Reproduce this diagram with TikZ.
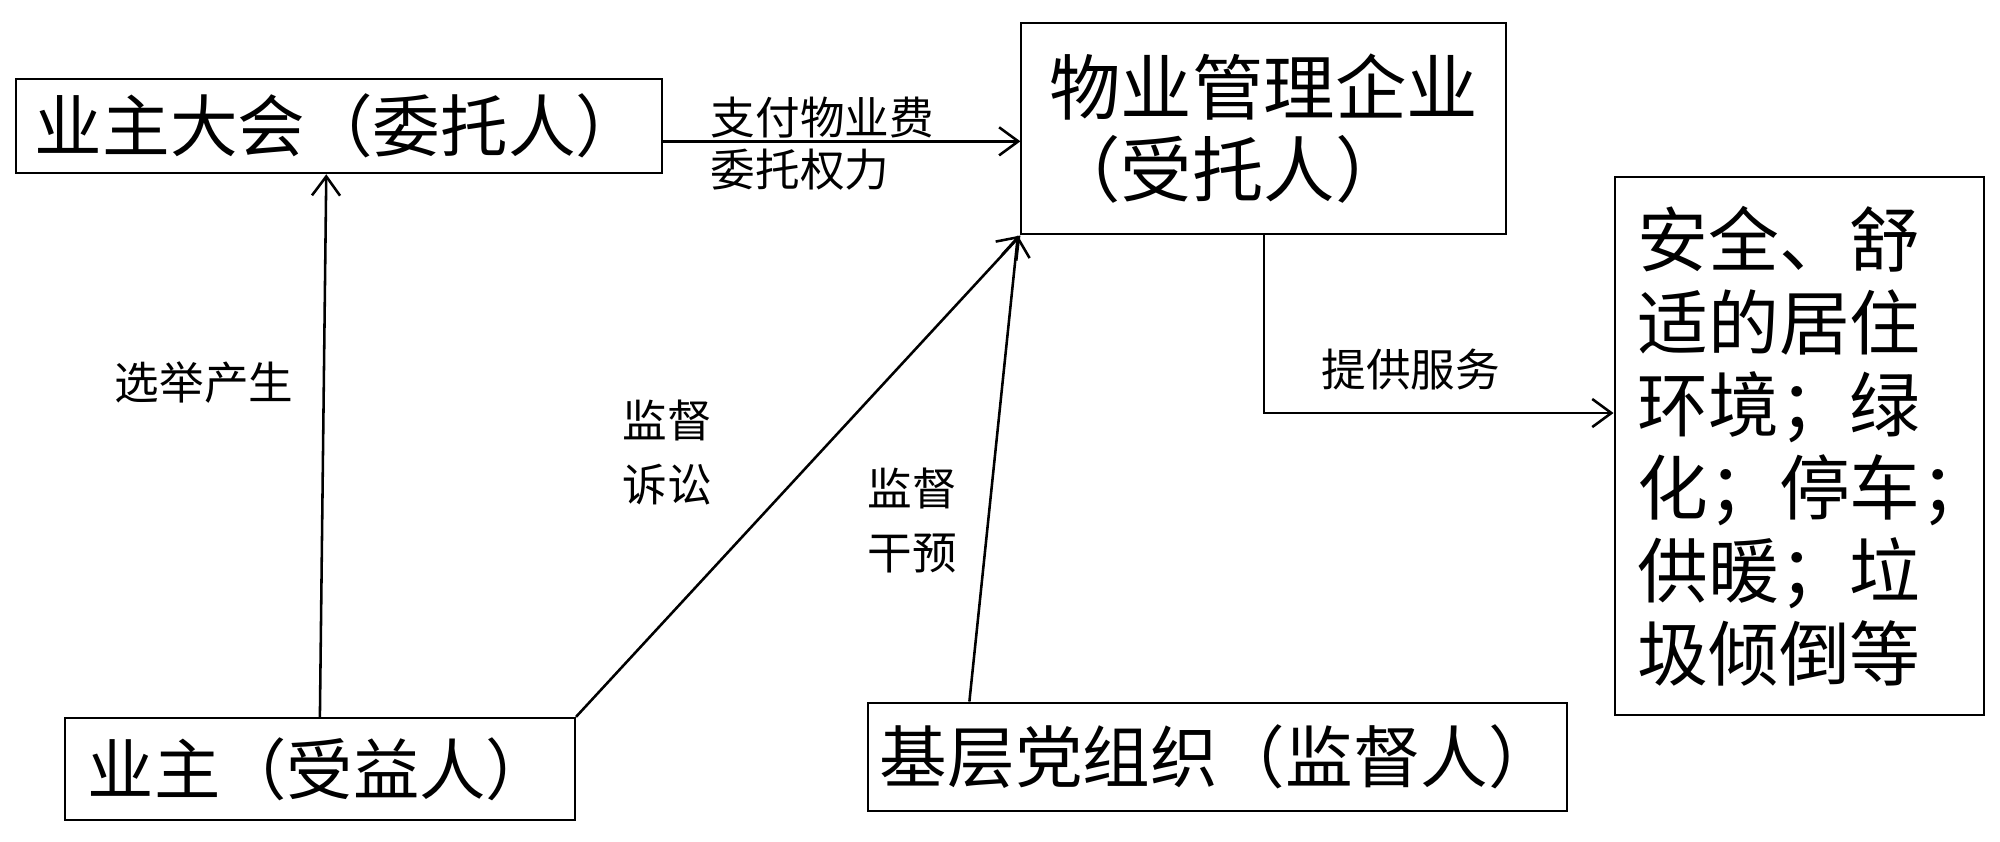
\documentclass[tikz,border=0pt]{standalone}
\usepackage{fontspec}
\setmainfont{Noto Sans CJK SC}
\usetikzlibrary{arrows.meta}
\tikzset{
  kuang/.style={draw, line width=0.8pt, inner sep=0pt, anchor=north west},
  jian/.style={line width=1pt, -{Straight Barb[length=7.5pt,width=11pt]}},
  biaoqian/.style={inner sep=0pt, font=\fontsize{17.5}{25}\selectfont, align=left}
}
\begin{document}
\begin{tikzpicture}[x=0.5pt, y=-0.5pt]
	\useasboundingbox (0,0) rectangle (1568,660);

	\node [kuang, minimum width=253pt, minimum height=37pt, font=\fontsize{26.5}{30}\selectfont] (weituo) at (12,61) {业主大会（委托人）};
	\node [kuang, minimum width=190pt, minimum height=83pt, align=left, font=\fontsize{28}{32.5}\selectfont] (qiye) at (800,17) {物业管理企业\\（受托人）};
	\node [kuang, minimum width=145pt, minimum height=211pt, text width=127pt, align=left, font=\fontsize{27.75}{32.5}\selectfont] (huanjing) at (1265,138) {安全、舒\\适的居住\\环境；绿\\化；停车\rlap{；}\\供暖；垃\\圾倾倒等};
	\node [kuang, minimum width=200pt, minimum height=40pt, font=\fontsize{26}{30}\selectfont] (yezhu) at (50,562) {业主（受益人）};
	\node [kuang, minimum width=274pt, minimum height=42.5pt, font=\fontsize{26.5}{30}\selectfont] (dangzu) at (680,550) {基层党组织（监督人）};

	\draw [jian] ([yshift=-6pt]weituo.east) -- ([yshift=-6pt]weituo.east -| qiye.west);
	\draw [jian] (yezhu.north) -- ([xshift=-5pt]weituo.south);
	\draw [jian] (yezhu.north east) -- (qiye.south west);
	\draw [jian] ([xshift=40pt]dangzu.north west) -- ([xshift=-1pt]qiye.south west);
	\draw [jian] (qiye.south) |- ([yshift=13pt]huanjing.west);

	\node [biaoqian, anchor=west] (zhifu) at (557,92) {支付物业费};
	\node [biaoqian, anchor=west] (quanli) at (557,133) {委托权力};
	\node [biaoqian] (xuanju) at (160,300) {选举产生};
	\node [biaoqian] (susong) at (523,355) {监督\\诉讼};
	\node [biaoqian] (ganyu) at (715,408) {监督\\干预};
	\node [biaoqian] (fuwu) at (1106,290) {提供服务};
\end{tikzpicture}
\end{document}
